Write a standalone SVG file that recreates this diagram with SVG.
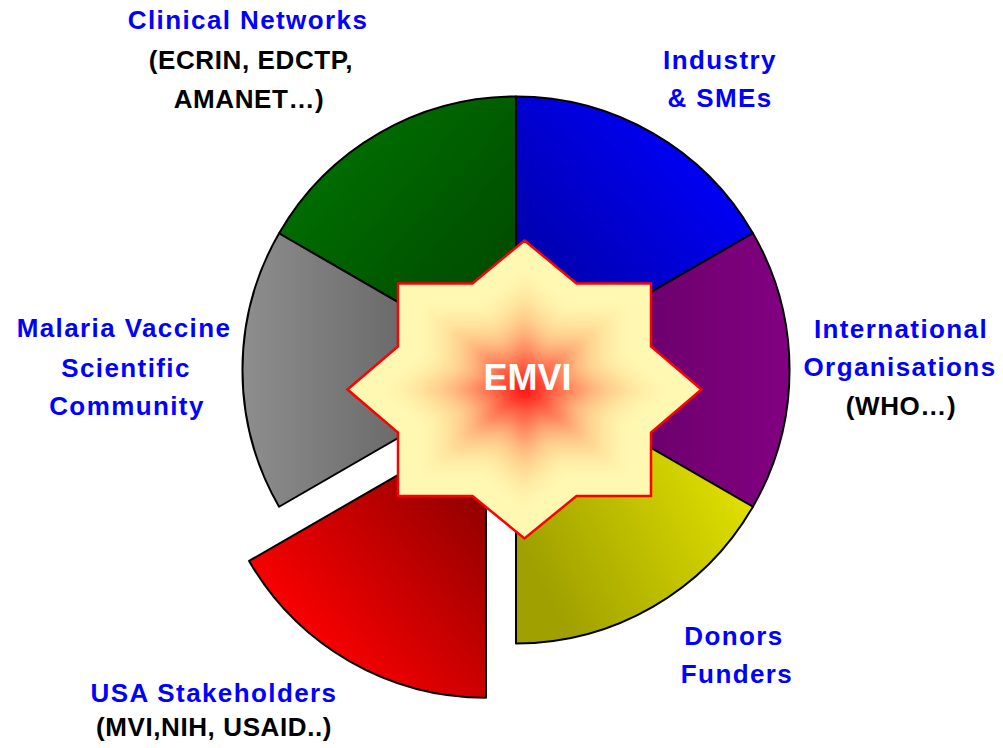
<svg xmlns="http://www.w3.org/2000/svg" xmlns:xlink="http://www.w3.org/1999/xlink" width="1003" height="748" viewBox="0 0 1003 748">
<defs>
<style>
.slice{stroke:#000;stroke-width:2;stroke-linejoin:round}
.lb{font-family:"Liberation Sans",Arial,sans-serif;font-weight:bold;font-size:26px;fill:#0000FF;text-anchor:middle;letter-spacing:1.4px}
.lk{font-family:"Liberation Sans",Arial,sans-serif;font-weight:bold;font-size:26px;fill:#000;text-anchor:middle;letter-spacing:0.6px}
</style>
<linearGradient id="gBlue" x1="1" y1="0" x2="0" y2="1"><stop offset="0.15" stop-color="#0000FF"/><stop offset="1" stop-color="#000090"/></linearGradient>
<linearGradient id="gGreen" x1="0" y1="0" x2="1" y2="1"><stop offset="0" stop-color="#007A00"/><stop offset="1" stop-color="#004000"/></linearGradient>
<linearGradient id="gGray" x1="0" y1="0" x2="1" y2="0"><stop offset="0" stop-color="#8E8E8E"/><stop offset="1" stop-color="#505050"/></linearGradient>
<linearGradient id="gPurple" x1="1" y1="0" x2="0" y2="0"><stop offset="0" stop-color="#820082"/><stop offset="1" stop-color="#5A005A"/></linearGradient>
<linearGradient id="gYellow" x1="1" y1="0" x2="0" y2="0.6"><stop offset="0" stop-color="#F2F200"/><stop offset="1" stop-color="#A0A000"/></linearGradient>
<linearGradient id="gRed" x1="0" y1="1" x2="1" y2="0"><stop offset="0.2" stop-color="#FF0000"/><stop offset="1" stop-color="#7A0000"/></linearGradient>
<path id="star" d="M0,-149 L52,-106 L126.5,-106 L126.5,-43 L177,0 L126.5,43 L126.5,106.5 L52,106.5 L0,149 L-52,106.5 L-126.5,106.5 L-126.5,43 L-177,0 L-126.5,-43 L-126.5,-106 L-52,-106 Z"/>
<clipPath id="starClip"><use xlink:href="#star" transform="translate(524.5,389.5)"/></clipPath>
<filter id="soft" x="-20%" y="-20%" width="140%" height="140%"><feGaussianBlur stdDeviation="4"/></filter>
</defs>
<rect width="1003" height="748" fill="#fff"/>
<g id="pie">
<path id="slice-industry" class="slice" fill="url(#gBlue)" d="M516,370 L516,96.5 A273.5,273.5 0 0 1 752.9,233.25 Z"/>
<path id="slice-intl" class="slice" fill="url(#gPurple)" d="M516,370 L752.9,233.25 A273.5,273.5 0 0 1 752.9,506.75 Z"/>
<path id="slice-donors" class="slice" fill="url(#gYellow)" d="M516,370 L752.9,506.75 A273.5,273.5 0 0 1 516,643.5 Z"/>
<path id="slice-usa" class="slice" fill="url(#gRed)" d="M486,424.2 L486,697.7 A273.5,273.5 0 0 1 249.1,560.95 Z"/>
<path id="slice-malaria" class="slice" fill="url(#gGray)" d="M516,370 L279.1,506.75 A273.5,273.5 0 0 1 279.1,233.25 Z"/>
<path id="slice-clinical" class="slice" fill="url(#gGreen)" d="M516,370 L279.1,233.25 A273.5,273.5 0 0 1 516,96.5 Z"/>
</g>
<g id="emvi">
<g clip-path="url(#starClip)">
<g transform="translate(524.5,389.5)" filter="url(#soft)">
<use xlink:href="#star" transform="scale(1.2)" fill="#FFF8B2"/>
<use xlink:href="#star" transform="scale(0.78)" fill="#FFF2AB"/>
<use xlink:href="#star" transform="scale(0.68)" fill="#FFE6A0"/>
<use xlink:href="#star" transform="scale(0.58)" fill="#FFD592"/>
<use xlink:href="#star" transform="scale(0.48)" fill="#FFBD82"/>
<use xlink:href="#star" transform="scale(0.39)" fill="#FFA170"/>
<use xlink:href="#star" transform="scale(0.31)" fill="#FF835B"/>
<use xlink:href="#star" transform="scale(0.23)" fill="#FF6246"/>
<use xlink:href="#star" transform="scale(0.15)" fill="#FF3E2E"/>
<use xlink:href="#star" transform="scale(0.08)" fill="#FF1C1C"/>
</g>
</g>
<use xlink:href="#star" transform="translate(524.5,389.5)" fill="none" stroke="#FF0000" stroke-width="2.5" stroke-linejoin="miter"/>
<text x="527.5" y="390" style="font-family:'Liberation Sans',Arial,sans-serif;font-weight:bold;font-size:36px;fill:#fff;text-anchor:middle">EMVI</text>
</g>
<g id="label-clinical">
<text class="lb" x="248" y="29">Clinical Networks</text>
<text class="lk" x="251" y="69">(ECRIN, EDCTP,</text>
<text class="lk" x="249" y="108">AMANET…)</text>
</g>
<g id="label-industry">
<text class="lb" x="720" y="69">Industry</text>
<text class="lb" x="720" y="107">&amp; SMEs</text>
</g>
<g id="label-malaria">
<text class="lb" x="124" y="337">Malaria Vaccine</text>
<text class="lb" x="126" y="377">Scientific</text>
<text class="lb" x="127" y="415">Community</text>
</g>
<g id="label-intl">
<text class="lb" x="901" y="338">International</text>
<text class="lb" x="900" y="376">Organisations</text>
<text class="lk" x="901" y="415">(WHO…)</text>
</g>
<g id="label-donors">
<text class="lb" x="734" y="645">Donors</text>
<text class="lb" x="737" y="683">Funders</text>
</g>
<g id="label-usa">
<text class="lb" x="214" y="702">USA Stakeholders</text>
<text class="lk" x="214" y="736">(MVI,NIH, USAID..)</text>
</g>
<g id="connectors"/>
</svg>
